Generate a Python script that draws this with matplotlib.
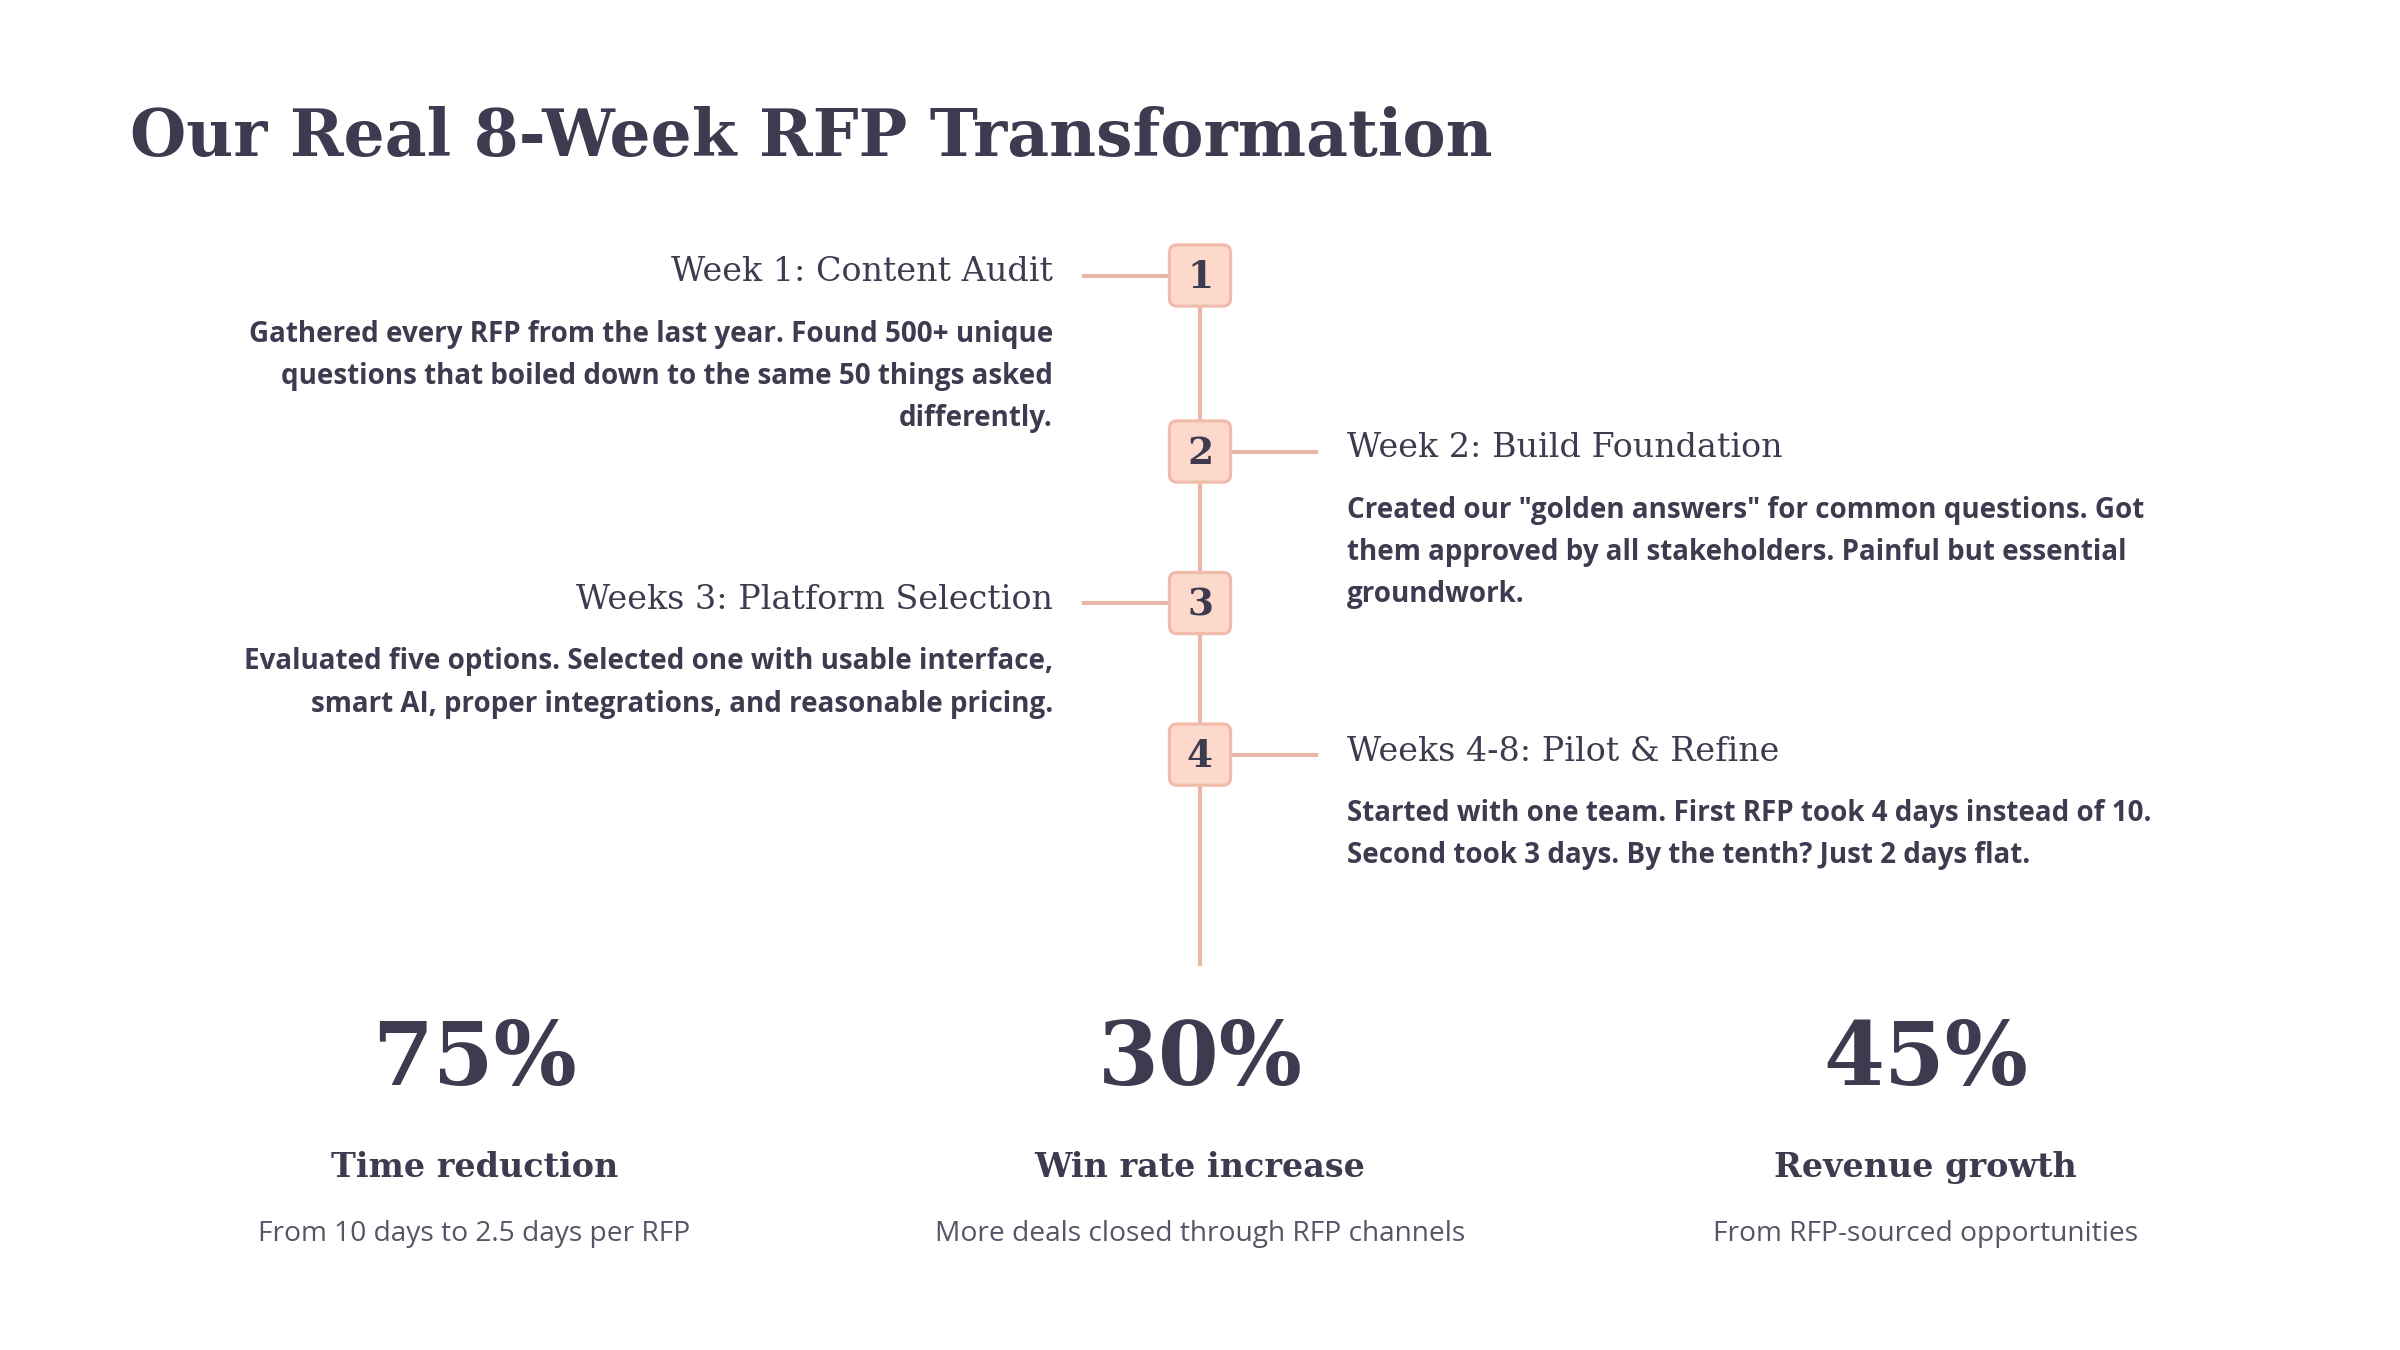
import matplotlib.pyplot as plt
from matplotlib.patches import FancyBboxPatch

# Data
step_nums = ["1", "2", "3", "4"]
step_titles = ["Week 1: Content Audit", "Week 2: Build Foundation",
               "Weeks 3: Platform Selection", "Weeks 4-8: Pilot & Refine"]
step_texts = [
    "Gathered every RFP from the last year. Found 500+ unique\nquestions that boiled down to the same 50 things asked\ndifferently.",
    "Created our \"golden answers\" for common questions. Got\nthem approved by all stakeholders. Painful but essential\ngroundwork.",
    "Evaluated five options. Selected one with usable interface,\nsmart AI, proper integrations, and reasonable pricing.",
    "Started with one team. First RFP took 4 days instead of 10.\nSecond took 3 days. By the tenth? Just 2 days flat.",
]
step_sides = ["left", "right", "left", "right"]
stat_values = ["75%", "30%", "45%"]
stat_labels = ["Time reduction", "Win rate increase", "Revenue growth"]
stat_notes = ["From 10 days to 2.5 days per RFP", "More deals closed through RFP channels",
              "From RFP-sourced opportunities"]

# layout (reference pixel space 1568x882)
W, H = 1568, 882
step_y = [180, 295, 394, 493]
stat_x = [310, 784, 1258]
dark = "#3d3b4f"
line_c = "#e8b7a6"
box_fill = "#fdd9cc"
serif = "DejaVu Serif"
sans = "Open Sans"

fig = plt.figure(figsize=(16, 9), dpi=150)
ax = fig.add_axes([0, 0, 1, 1])
ax.set_xlim(0, W)
ax.set_ylim(H, 0)
ax.axis("off")

ax.text(85, 90, "Our Real 8-Week RFP Transformation", fontsize=31, fontweight="bold",
        family=serif, color=dark, va="center", ha="left")

cx = 784
ax.plot([cx, cx], [180, 630], color=line_c, lw=2, zorder=1)
for num, title, body, side, y in zip(step_nums, step_titles, step_texts, step_sides, step_y):
    if side == "left":
        ax.plot([708, cx], [y, y], color=line_c, lw=2, zorder=1)
        ax.text(688, y - 2, title, fontsize=16, family=serif, color=dark, ha="right", va="center")
        ax.text(688, y + 29, body, fontsize=13.3, family=sans, fontweight="bold", color=dark,
                ha="right", va="top", linespacing=1.6)
    else:
        ax.plot([cx, 860], [y, y], color=line_c, lw=2, zorder=1)
        ax.text(880, y - 2, title, fontsize=16, family=serif, color=dark, ha="left", va="center")
        ax.text(880, y + 29, body, fontsize=13.3, family=sans, fontweight="bold", color=dark,
                ha="left", va="top", linespacing=1.6)
    ax.add_patch(FancyBboxPatch((764, y - 20), 40, 40, boxstyle="round,pad=0,rounding_size=5",
                                fc=box_fill, ec="#f0bca9", lw=1.5, zorder=2))
    ax.text(cx, y + 1, num, fontsize=18, family=serif, fontweight="bold", color=dark,
            ha="center", va="center", zorder=3)

for x, v, lab, note in zip(stat_x, stat_values, stat_labels, stat_notes):
    ax.text(x, 693, v, fontsize=42, family=serif, fontweight="bold", color=dark, ha="center", va="center")
    ax.text(x, 763, lab, fontsize=16, family=serif, fontweight="bold", color=dark, ha="center", va="center")
    ax.text(x, 806, note, fontsize=13.5, family=sans, color="#555566", ha="center", va="center")

fig.savefig("out.png", dpi=150, facecolor="white")
